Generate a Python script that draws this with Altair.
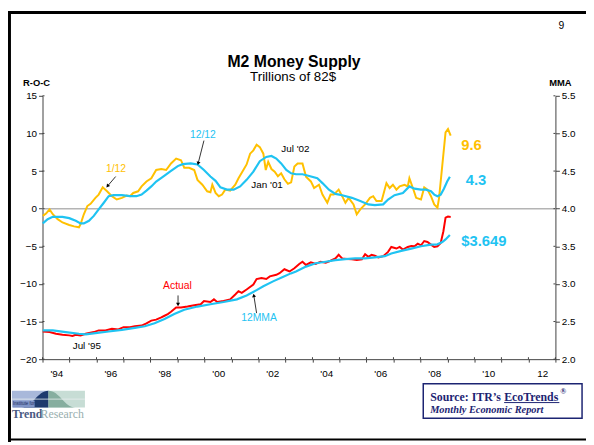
import altair as alt
import pandas as pd

# ---------------- data ----------------
# 1/12 rate of change (R-O-C, left axis)
roc112_year = [1994.01,1994.13,1994.26,1994.38,1994.56,1994.74,1994.99,
               1995.17,1995.35,1995.41,1995.53,1995.66,1995.78,1995.96,
               1996.08,1996.23,1996.39,1996.57,1996.75,1996.94,
               1997.12,1997.24,1997.36,1997.54,1997.67,1997.85,
               1998.03,1998.21,1998.40,1998.58,1998.76,1998.95,
               1999.13,1999.25,1999.43,1999.62,1999.74,1999.92,
               2000.10,2000.22,2000.29,2000.41,2000.53,2000.65,2000.77,2000.95,
               2001.14,2001.26,2001.44,2001.56,2001.69,2001.81,2001.93,
               2002.05,2002.18,2002.27,2002.36,2002.48,2002.60,2002.72,2002.84,2002.96,
               2003.09,2003.21,2003.33,2003.45,2003.63,2003.76,2003.94,
               2004.06,2004.24,2004.37,2004.55,2004.67,2004.79,2004.97,
               2005.10,2005.22,2005.34,2005.52,2005.64,2005.77,2005.95,
               2006.13,2006.25,2006.37,2006.56,2006.74,2006.86,2006.98,
               2007.11,2007.23,2007.41,2007.53,2007.59,2007.72,2007.84,
               2008.02,2008.14,2008.26,2008.39,2008.51,2008.63,2008.69,2008.81,2008.93,
               2009.02,2009.12]
roc112_val = [-0.96,-0.65,-0.09,-0.74,-1.39,-1.83,-2.17,
              -2.35,-2.48,-2.04,-0.74,0.35,0.65,1.44,
              1.87,2.83,2.31,1.66,1.22,1.44,
              1.74,1.66,2.09,2.31,2.96,3.61,
              4.05,5.14,5.27,5.14,6.01,6.66,
              6.44,5.44,5.44,5.14,3.83,3.18,
              2.31,2.18,3.18,2.09,1.66,1.87,2.53,2.40,
              3.18,4.05,5.14,5.88,7.31,7.75,8.49,
              8.18,7.31,5.14,6.23,5.27,4.92,4.30,4.70,3.90,
              3.30,3.50,5.60,6.00,6.00,4.26,3.62,
              2.74,3.18,1.87,0.79,1.87,1.87,2.53,
              1.66,0.79,1.44,0.57,-0.74,-0.09,0.57,
              1.44,1.66,1.01,1.01,3.40,2.74,3.18,
              2.53,2.96,3.18,2.96,4.05,2.74,1.44,
              1.22,2.83,2.53,1.66,0.57,0.14,1.44,5.79,10.15,
              10.58,9.71]

# 12/12 rate of change (left axis)
roc1212_year = [1994.01,1994.19,1994.38,1994.74,1994.99,1995.23,1995.41,1995.53,1995.72,1995.90,
                1996.08,1996.27,1996.45,1996.63,1996.94,1997.24,1997.48,1997.67,1997.85,
                1998.03,1998.21,1998.52,1998.76,1999.01,1999.19,1999.49,1999.74,1999.98,
                2000.22,2000.41,2000.59,2000.83,2001.08,2001.32,2001.56,2001.81,
                2002.05,2002.29,2002.48,2002.66,2002.84,2003.03,2003.21,2003.39,2003.63,2003.88,
                2004.18,2004.37,2004.61,2004.85,2005.10,2005.46,2005.77,
                2006.07,2006.31,2006.62,2006.80,2007.04,2007.35,2007.59,2007.78,
                2008.02,2008.20,2008.39,2008.51,2008.63,2008.75,2008.87,2008.99,2009.09]
roc1212_val = [-1.96,-1.39,-1.09,-1.09,-1.26,-1.61,-1.96,-1.96,-1.61,-0.96,
               -0.09,0.79,1.66,1.79,1.79,1.66,1.66,1.87,2.40,
               2.96,3.61,4.40,5.01,5.66,5.92,6.01,5.88,5.14,
               4.27,3.70,2.83,2.53,2.53,2.96,3.83,4.92,
               6.31,6.88,7.01,6.66,6.01,5.14,4.70,4.57,4.57,4.35,
               4.05,3.40,2.53,1.96,1.79,1.44,1.01,
               0.57,0.48,0.57,1.22,1.79,2.09,2.96,2.66,
               2.53,2.53,2.31,1.87,1.66,1.87,2.66,3.61,4.25]

# Actual M2, trillions of 82$ (right axis)
actual_year = [1994.01,1994.26,1994.50,1994.74,1994.99,1995.11,1995.23,1995.41,1995.60,1995.90,
               1996.08,1996.33,1996.57,1996.81,1997.00,1997.24,1997.42,1997.67,1997.85,
               1998.03,1998.21,1998.40,1998.52,1998.64,1998.76,1998.95,
               1999.13,1999.37,1999.62,1999.86,1999.98,2000.22,2000.35,2000.47,2000.71,2000.95,
               2001.14,2001.26,2001.38,2001.56,2001.81,2001.93,2002.11,2002.29,2002.42,
               2002.66,2002.78,2002.96,2003.15,2003.33,2003.51,2003.63,2003.76,2003.94,
               2004.12,2004.30,2004.49,2004.67,2004.85,2004.97,2005.10,2005.28,2005.46,2005.64,2005.83,2005.95,
               2006.07,2006.19,2006.31,2006.44,2006.62,2006.80,2006.92,
               2007.11,2007.23,2007.35,2007.53,2007.66,2007.78,2007.90,
               2008.02,2008.14,2008.26,2008.39,2008.51,2008.63,2008.75,2008.85,2008.93,
               2009.02,2009.12]
actual_val = [2.368,2.360,2.338,2.325,2.316,2.308,2.325,2.316,2.338,2.360,
              2.382,2.382,2.403,2.395,2.425,2.425,2.438,2.447,2.477,
              2.512,2.525,2.556,2.577,2.599,2.629,2.686,
              2.686,2.699,2.717,2.730,2.773,2.760,2.795,2.760,2.773,2.795,
              2.860,2.904,2.882,2.926,2.991,3.065,3.078,3.065,3.100,
              3.121,3.143,3.195,3.165,3.208,3.265,3.295,3.252,3.287,
              3.265,3.295,3.282,3.308,3.339,3.387,3.339,3.330,3.326,3.317,3.326,3.396,
              3.361,3.387,3.374,3.352,3.369,3.426,3.491,
              3.470,3.491,3.456,3.491,3.504,3.500,3.535,
              3.513,3.570,3.557,3.522,3.491,3.500,3.543,3.700,3.880,
              3.895,3.890]

# 12 month moving average (right axis)
mma_year = [1994.01,1994.38,1994.86,1995.35,1995.60,1995.96,1996.45,1996.94,1997.42,1997.79,
            1998.15,1998.52,1998.88,1999.25,1999.74,2000.22,2000.71,2001.20,2001.56,2001.93,
            2002.18,2002.54,2002.90,2003.20,2003.39,2003.76,2004.12,2004.49,2004.85,2005.22,
            2005.58,2005.95,2006.31,2006.68,2006.92,2007.29,2007.66,2008.02,2008.39,2008.63,
            2008.81,2008.93,2009.09]
mma_val = [2.382,2.382,2.360,2.338,2.329,2.347,2.368,2.390,2.416,2.438,
           2.477,2.534,2.599,2.656,2.699,2.730,2.760,2.795,2.847,2.917,
           2.969,3.034,3.091,3.140,3.165,3.230,3.274,3.295,3.317,3.330,
           3.339,3.339,3.352,3.369,3.404,3.439,3.469,3.500,3.522,3.526,
           3.557,3.591,3.649]

roc_ticks = [-20, -15, -10, -5, 0, 5, 10, 15]
mma_ticks = [2.0, 2.5, 3.0, 3.5, 4.0, 4.5, 5.0, 5.5]
year_ticks = list(range(1994, 2014))

assert len(roc112_year) == len(roc112_val)
assert len(roc1212_year) == len(roc1212_val)
assert len(actual_year) == len(actual_val)
assert len(mma_year) == len(mma_val)

# ---------------- style ----------------
GOLD = "#FFC000"
CYAN = "#1FC3F2"
RED = "#FF0000"
AX = "#404040"
NAVY = "#1C2472"
FONT = "Liberation Sans"
SERIF = "Liberation Serif"
W, H = 520, 267
OX, OY = 43, 94   # page position of the plot area

xs = alt.Scale(domain=[1994, 2013], nice=False, zero=False)
ys_roc = alt.Scale(domain=[-20, 15], nice=False, zero=False)
ys_mma = alt.Scale(domain=[2.0, 5.5], nice=False, zero=False)

x_axis = alt.Axis(values=year_ticks, title=None, grid=False,
                  labelExpr='datum.value % 2 == 0 ? (datum.value == 2012 ? "12" : "\'" + slice(toString(datum.value), 2)) : ""',
                  labelOffset=14, labelFlush=False, labelOverlap=False, labelBound=False,
                  tickSize=3, tickColor=AX, domainColor=AX, labelColor="black",
                  labelFontSize=10, labelFont=FONT, labelPadding=7)
left_axis = alt.Axis(values=roc_ticks, title=None, grid=False, tickSize=4,
                     tickColor=AX, domainColor=AX, labelColor="black",
                     labelFontSize=10, labelFont=FONT, labelPadding=2)
right_axis = alt.Axis(values=mma_ticks, orient="right", format=".1f", title=None, grid=False,
                      tickSize=4, tickColor=AX, domainColor=AX, labelColor="black",
                      labelFontSize=10, labelFont=FONT, labelPadding=2)

df_112 = pd.DataFrame({"year": roc112_year, "v": roc112_val})
df_1212 = pd.DataFrame({"year": roc1212_year, "v": roc1212_val})
df_act = pd.DataFrame({"year": actual_year, "v": actual_val})
df_mma = pd.DataFrame({"year": mma_year, "v": mma_val})
one = pd.DataFrame({"a": [0]})

# every layer gets the identical axis definition so the shared axes merge cleanly
X = lambda f="year": alt.X(f + ":Q", scale=xs, axis=x_axis)
YR = lambda f="v": alt.Y(f + ":Q", scale=ys_roc, axis=left_axis)
YM = lambda f="v": alt.Y(f + ":Q", scale=ys_mma, axis=right_axis)

# ---------------- R-O-C layer ----------------
zero_rule = alt.Chart(pd.DataFrame({"z": [0]})).mark_rule(color="#B4B4B4", strokeWidth=1.5).encode(
    y=YR("z"))
gold = alt.Chart(df_112).mark_line(color=GOLD, strokeWidth=2).encode(x=X(), y=YR())
c1212 = alt.Chart(df_1212).mark_line(color=CYAN, strokeWidth=2.2).encode(x=X(), y=YR())

in_left = alt.Chart(pd.DataFrame({"t": roc_ticks})).mark_rule(color=AX).encode(
    x=alt.value(0), x2=alt.value(2), y=YR("t"))
in_bottom = alt.Chart(pd.DataFrame({"year": year_ticks})).mark_rule(color=AX).encode(
    x=X(), y=alt.value(H - 2), y2=alt.value(H))


def dtext(yfun, label, xv, yv, color, size, weight="normal"):
    return alt.Chart(pd.DataFrame({"x": [xv], "y": [yv]})).mark_text(
        text=label, color=color, fontSize=size, fontWeight=weight, font=FONT,
        align="center", baseline="middle").encode(x=X("x"), y=yfun("y"))


def arrow(yfun, x1, y1, x2, y2, ang):
    d = pd.DataFrame({"x1": [x1], "y1": [y1], "x2": [x2], "y2": [y2]})
    line = alt.Chart(d).mark_rule(color="black", strokeWidth=0.8).encode(
        x=X("x1"), y=yfun("y1"), x2="x2:Q", y2="y2:Q")
    head = alt.Chart(d).mark_point(shape="triangle", filled=True, size=16, color="black",
                                   opacity=1, angle=ang).encode(x=X("x2"), y=yfun("y2"))
    return line + head


roc_layer = alt.layer(
    zero_rule, gold, c1212, in_left, in_bottom,
    dtext(YR, "1/12", 1996.72, 5.22, GOLD, 10.5),
    dtext(YR, "12/12", 1999.94, 9.84, CYAN, 10.5),
    dtext(YR, "Jul '02", 2003.37, 7.86, "black", 10),
    dtext(YR, "Jan '01", 2002.32, 3.16, "black", 10),
    dtext(YR, "9.6", 2009.89, 8.51, GOLD, 15, "bold"),
    dtext(YR, "4.3", 2010.06, 3.75, CYAN, 15, "bold"),
    arrow(YR, 1996.71, 4.27, 1996.42, 3.05, 219),
    arrow(YR, 1999.98, 9.05, 1999.77, 6.10, 194),
)

# ---------------- MMA layer ----------------
red = alt.Chart(df_act).mark_line(color=RED, strokeWidth=2).encode(x=X(), y=YM())
c12mma = alt.Chart(df_mma).mark_line(color=CYAN, strokeWidth=2.2).encode(x=X(), y=YM())
in_right = alt.Chart(pd.DataFrame({"t": mma_ticks})).mark_rule(color=AX).encode(
    x=alt.value(W - 2), x2=alt.value(W), y=YM("t"))

mma_layer = alt.layer(
    red, c12mma, in_right,
    dtext(YM, "Actual", 1999.0, 2.978, RED, 10.5),
    dtext(YM, "12MMA", 2002.02, 2.547, CYAN, 10.5),
    dtext(YM, "Jul '95", 1995.64, 2.181, "black", 10),
    dtext(YM, "$3.649", 2010.35, 3.568, CYAN, 15, "bold"),
    arrow(YM, 1999.02, 2.847, 1999.02, 2.735, 180),
    arrow(YM, 2001.93, 2.612, 2001.83, 2.840, 351),
)

# ---------------- page decorations (page pixel coordinates) ----------------
def ptext(label, px, py, size=10, weight="normal", color="black", align="center",
          font=FONT, style="normal"):
    return alt.Chart(one).mark_text(text=label, fontSize=size, fontWeight=weight, color=color,
                                    align=align, baseline="middle", font=font, fontStyle=style).encode(
        x=alt.value(px - OX), y=alt.value(py - OY))


def prect(x1, y1, x2, y2, fill, stroke=None, sw=0):
    kw = dict(fill=fill)
    if stroke is not None:
        kw.update(stroke=stroke, strokeWidth=sw)
    return alt.Chart(one).mark_rect(**kw).encode(
        x=alt.value(x1 - OX), x2=alt.value(x2 - OX), y=alt.value(y1 - OY), y2=alt.value(y2 - OY))


def pline(x1, y1, x2, y2, color, sw):
    return alt.Chart(one).mark_rule(color=color, strokeWidth=sw).encode(
        x=alt.value(x1 - OX), x2=alt.value(x2 - OX), y=alt.value(y1 - OY), y2=alt.value(y2 - OY))


def pshape(path, cx, cy, size, color):
    return alt.Chart(one).mark_point(shape=path, filled=True, size=size, color=color, opacity=1,
                                     strokeWidth=0).encode(x=alt.value(cx - OX), y=alt.value(cy - OY))


deco = [
    # frame
    pline(8, 9.5, 594, 9.5, "black", 3),
    pline(9.5, 8, 9.5, 445, "black", 3),
    pline(8, 442.5, 594, 442.5, "black", 2),
    # titles
    ptext("9", 569, 23, 10.5),
    ptext("M2 Money Supply", 298, 60, 16, "bold"),
    ptext("Trillions of 82$", 297, 75, 13.5),
    ptext("R-O-C", 37, 81, 9.5, "bold"),
    ptext("MMA", 568, 81, 9.5, "bold"),
    # logo
    prect(12, 393, 49, 410, "#A8B8DA"),
    prect(49, 393, 86, 410, "#C7DDD5"),
    pshape("M -0.73 0.23 C -0.45 0.23 -0.3 -0.23 0 -0.23 L 0 0.23 Z", 49, 401.5, 5476, "#1E3A6E"),
    pshape("M 0 -0.23 C 0.3 -0.23 0.45 0.23 0.73 0.23 L 0 0.23 Z", 49, 401.5, 5476, "#86AE9F"),
    pline(12, 401.5, 86, 401.5, "#E8EEF0", 0.8),
    prect(13, 403, 35, 410, "#7F93C6"),
    ptext("Institute for", 24, 406.5, 4.5, color="#1E2E5E"),
    ptext("Trend", 12, 417, 12, "bold", "#4A5A82", "left", SERIF),
    ptext("Research", 41, 417, 12, "normal", "#98AEAE", "left", SERIF),
    # source box
    prect(429, 386, 590, 421, "white", NAVY, 1.5),
    ptext("Source: ITR\u2019s ", 436, 399, 12, "bold", NAVY, "left", SERIF),
    ptext("EcoTrends", 511, 399, 12, "bold", NAVY, "left", SERIF),
    pline(511, 405, 567, 405, NAVY, 1),
    ptext("\u00ae", 568, 394, 8, "bold", NAVY, "left", SERIF),
    ptext("Monthly Economic Report", 436, 412.5, 10.5, "bold", NAVY, "left", SERIF, "italic"),
]

chart = alt.layer(roc_layer, mma_layer, *deco).resolve_scale(y="independent").properties(
    width=W, height=H,
    padding={"left": 35, "top": 86, "right": 31, "bottom": 84},
    autosize=alt.AutoSizeParams(type="none"),
    background="white",
).configure_view(strokeWidth=0)

chart.save("out.html", embed_options={"renderer": "svg", "actions": False})
